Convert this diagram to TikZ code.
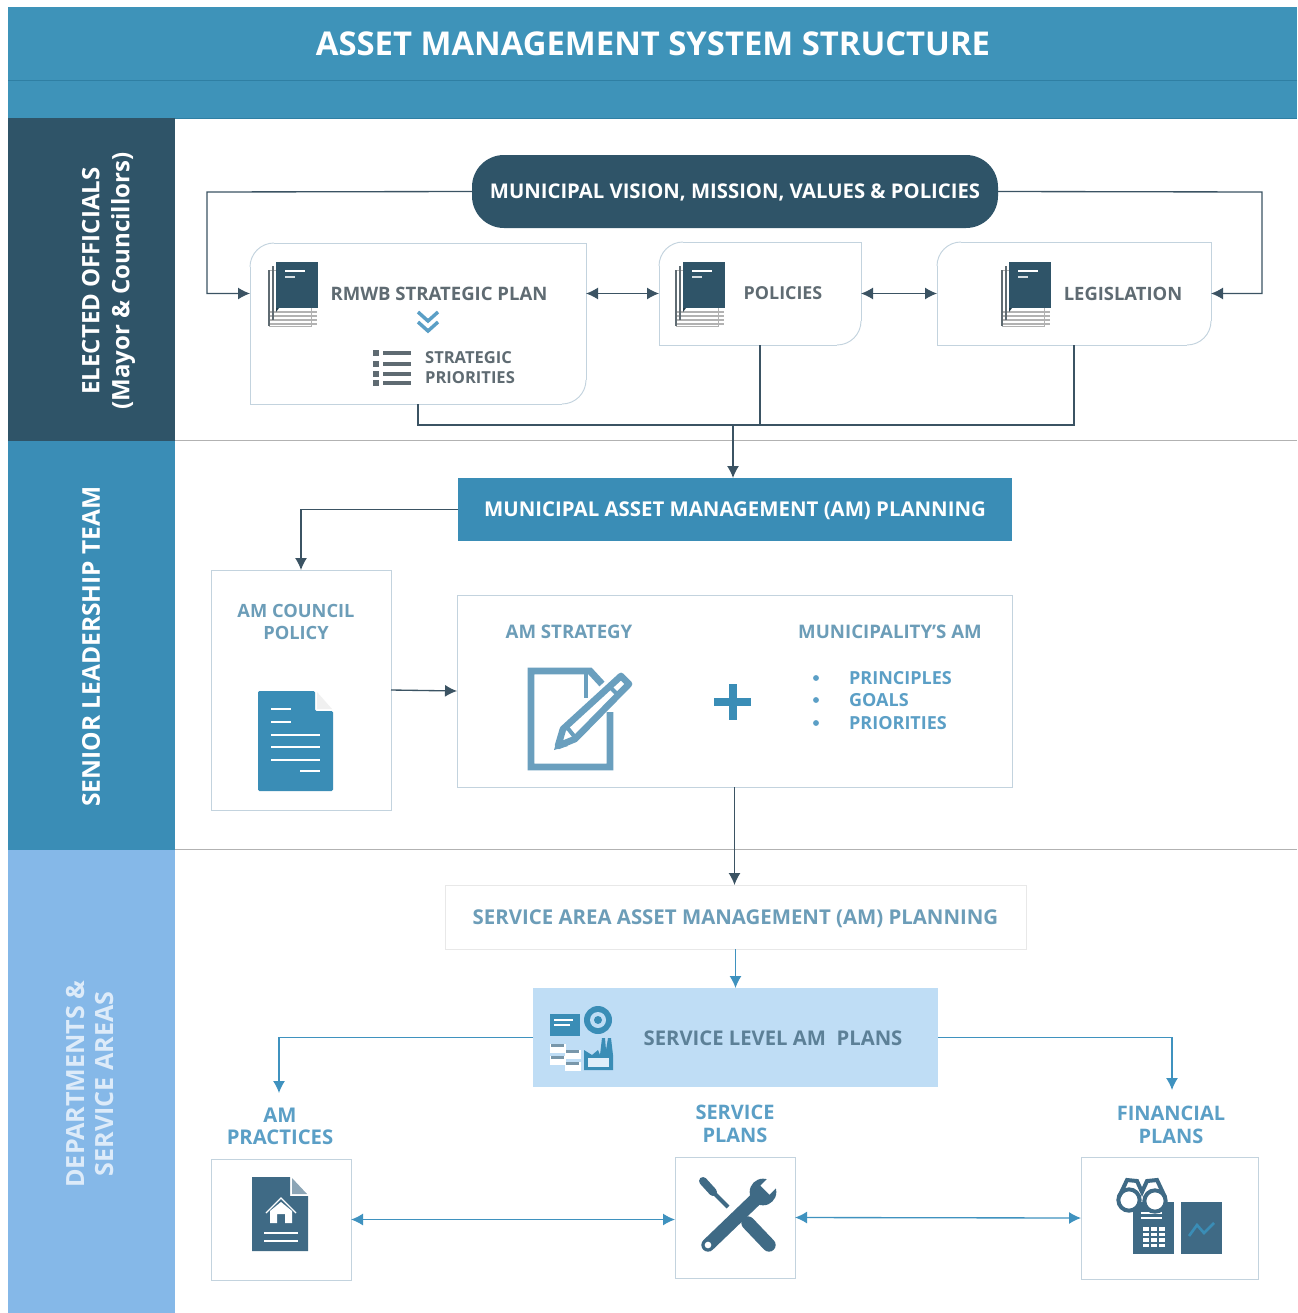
\documentclass[tikz,border=0pt]{standalone}
\usepackage{fontspec}
\setmainfont{Open Sans}
\usetikzlibrary{arrows.meta,calc}
\definecolor{hdr}{HTML}{3E93B9}
\definecolor{hdrline}{HTML}{2F7FA3}
\definecolor{navy}{HTML}{2F5468}
\definecolor{midblue}{HTML}{3A8DB6}
\definecolor{ltblue}{HTML}{85B8E8}
\definecolor{pale}{HTML}{BFDDF5}
\definecolor{slate}{HTML}{3F6A85}
\definecolor{graytx}{HTML}{5F6B72}
\definecolor{steel}{HTML}{6C9DB8}
\definecolor{sky}{HTML}{5B9FC6}
\definecolor{linkd}{HTML}{3B5363}
\definecolor{linkb}{HTML}{3F92BF}
\definecolor{edge}{HTML}{C3D3DE}
\definecolor{iconb}{HTML}{6A9FBE}
\newcommand{\fs}[2]{\fontsize{#1}{#2}\selectfont\bfseries}
\tikzset{
  x=.75pt,y=-.75pt,
  every node/.style={inner sep=0pt,outer sep=0pt,align=center},
  sep/.style={draw=gray!60,line width=.5pt},
  side/.style={rotate=90,text=white,font=\fs{18}{22.5}},
  caps/.style={text height=#1*.714pt,text depth=0pt},
  conn/.style={draw=linkd,line width=1pt},
  bconn/.style={draw=linkb,line width=1pt},
  tip/.style={-{Latex[length=9pt,width=9pt]}},
  tips/.style={{Latex[length=9pt,width=9pt]}-{Latex[length=9pt,width=9pt]}},
  plainbox/.style={draw=edge,line width=.7pt,fill=white,minimum width=#1}
}
% book icon, top-left of the cover at (#1,#2)
\newcommand{\bookicon}[2]{
  \begin{scope}[shift={(#1,#2)}]
    \fill[white,draw=gray!60,line width=.6pt] (-7,8) rectangle (35,64);
    \foreach \yy in {50,54,58,62} \draw[gray!60,line width=1pt] (-7,\yy) -- (41,\yy);
    \draw[graytx,line width=1.2pt] (-7,8) -- (-7,64);
    \draw[graytx,line width=1.2pt] (-3,4) -- (-3,58);
    \fill[navy] (0,0) rectangle (42,46);
    \fill[navy!70!black] (0,46) -- (0,50) -- (3,46) -- cycle;
    \draw[white,line width=1pt] (9,9) -- (29,9);
    \draw[white!80!navy,line width=1pt] (9,15) -- (19,15);
  \end{scope}
}
\begin{document}
\begin{tikzpicture}
\useasboundingbox (0,0) rectangle (1297,1313);
\fill[white] (0,0) rectangle (1297,1313);
% header and side bands
\fill[hdr] (8,7) rectangle (1297,118);
\draw[hdrline,line width=.7pt] (8,80) -- (1297,80);
\draw[hdrline,line width=.7pt] (8,118) -- (1297,118);
\node[text=white,font=\fs{24.6}{30},caps=24.6] (title) at (653,44) {ASSET MANAGEMENT SYSTEM STRUCTURE};
\fill[navy] (8,118) rectangle (175,441);
\fill[midblue] (8,441) rectangle (175,850);
\fill[ltblue] (8,850) rectangle (175,1313);
\draw[sep] (175,440) -- (1297,440);
\draw[sep] (175,849) -- (1297,849);
\node[side] (elected) at (108.5,281) {ELECTED OFFICIALS\\(Mayor \& Councillors)};
\node[side,font=\fs{18.4}{22.5}] (senior) at (91,646.5) {SENIOR LEADERSHIP TEAM};
\node[side,text=white!72!ltblue,font=\fs{18.8}{22}] (dept) at (90,1084) {DEPARTMENTS \&\\SERVICE AREAS};

% top row
\node[fill=navy,rounded corners=24pt,minimum width=394.5pt,minimum height=54.75pt,text=white,font=\fs{15.2}{15},caps=15.2] (vision) at (735,191.5) {MUNICIPAL VISION, MISSION, VALUES \& POLICIES};
\node[minimum width=252pt,minimum height=120.75pt] (strat) at (418,323.5) {};
\node[minimum width=151.5pt,minimum height=77.25pt] (pol) at (760,293.5) {};
\node[minimum width=205.5pt,minimum height=77.25pt] (legis) at (1074,293.5) {};
\foreach \b in {strat,pol,legis}{
  \draw[edge,line width=.7pt] (\b.north east) -- (\b.south east) -- (\b.south west) -- (\b.north west) -- cycle;
  \fill[white] ($(\b.north west)+(-2,-2)$) rectangle ($(\b.north west)+(24,24)$);
  \fill[white] ($(\b.south east)+(2,2)$) rectangle ($(\b.south east)+(-24,-24)$);
  \draw[edge,line width=.7pt] ($(\b.north west)+(0,24)$) arc[start angle=180,end angle=90,radius=18pt];
  \draw[edge,line width=.7pt] ($(\b.south east)+(0,-24)$) arc[start angle=0,end angle=90,x radius=18pt,y radius=-18pt];
}
\bookicon{276}{262}
\bookicon{683}{262}
\bookicon{1009}{262}
\node[text=graytx,font=\fs{13.9}{15},caps=13.9] (rmwb) at (439,294) {RMWB STRATEGIC PLAN};
\node[text=graytx,font=\fs{13.4}{15},caps=13.4] (polt) at (783,293.5) {POLICIES};
\node[text=graytx,font=\fs{13.8}{15},caps=13.8] (legt) at (1123,294) {LEGISLATION};
\node[text=graytx,font=\fs{12.4}{15.6},align=left] (prio) at (470,367.5) {STRATEGIC\\PRIORITIES};
\draw[sky,line width=2.6pt] (418,312) -- (428,321) -- (438,312);
\draw[sky,line width=2.6pt] (418,322) -- (428,331) -- (438,322);
\foreach \yy in {353,364,374,383}{
  \fill[graytx] (373,\yy-3) rectangle (379,\yy+3);
  \draw[graytx,line width=2.4pt] (383,\yy) -- (411,\yy);
}
\coordinate (lbend) at (207,192);
\coordinate (rbend) at (1262,192);
\draw[conn,tip] (vision.west) -- (lbend) |- (strat.west |- pol.west);
\draw[conn,tip] (vision.east) -- (rbend) |- (legis.east);
\draw[conn,tips] (strat.east |- pol.east) -- (pol.west);
\draw[conn,tips] (pol.east) -- (legis.west);
\coordinate (bus) at (733,425);
\draw[conn] (strat.south) |- (bus) -| (legis.south);
\draw[conn] (pol.south) -- (pol.south |- bus);

% senior leadership row
\node[fill=midblue,minimum width=415.5pt,minimum height=47.25pt,text=white,font=\fs{15.3}{15},caps=15.3] (mam) at (735,509.5) {MUNICIPAL ASSET MANAGEMENT (AM) PLANNING};
\draw[conn,tip] (bus) -- (bus |- mam.north);
\node[plainbox=135pt,minimum height=180pt] (council) at (301,690) {};
\node[plainbox=416.25pt,minimum height=144pt] (strategy) at (734.5,691) {};
\draw[conn,tip] (mam.west) -| (council.north);
\draw[conn,tip] (council.east) -- (strategy.west);
\node[text=steel,font=\fs{13.7}{16.5}] (ct) at (296,621.5) {AM COUNCIL\\POLICY};
\node[text=steel,font=\fs{14}{15},caps=14] (st) at (569,631.5) {AM STRATEGY};
\node[text=steel,font=\fs{14}{15},caps=14] (mt) at (890,631.5) {MUNICIPALITY'S AM};
% council document icon
\fill[midblue,rounded corners=1pt] (258,691) -- (315,691) -- (315,711) -- (333,711) -- (333,791) -- (258,791) -- cycle;
\fill[gray!12] (317,692) -- (317,709) -- (332,709) -- cycle;
\foreach \a/\b/\c in {271/291/709,271/291/722,271/320/735,271/320/747,271/320/760,300/320/771}
  \draw[white,line width=1.1pt] (\a,\c) -- (\b,\c);
% strategy icon
\draw[iconb,line width=5.2pt,line cap=butt] (610,712) -- (610,767) -- (531,767) -- (531,671) -- (590,671) -- (602,684);
\draw[iconb,line width=3pt] (586,671) -- (586,698);
\draw[iconb,line width=5pt,fill=white,line join=round] (621,676) -- (629,684) -- (575,739) -- (558,746) -- (563,729) -- cycle;
\draw[iconb,line width=3pt] (610,687) -- (618,695);
\draw[iconb,line width=3pt] (566,726) -- (574,736);
\fill[iconb] (554,750) -- (558,736) -- (568,746) -- cycle;
% plus
\draw[midblue,line width=5.5pt] (733,684) -- (733,720);
\draw[midblue,line width=5.5pt] (714,702) -- (751,702);
\node[text=sky,font=\fs{13.5}{16.9},align=left] (items) at (900.5,700.5) {PRINCIPLES\\GOALS\\PRIORITIES};
\foreach \yy in {678,700,723} \fill[sky] (816,\yy) circle[radius=2.2pt];

% departments row
\node[draw=gray!18,line width=.7pt,minimum width=435.75pt,minimum height=48pt,text=steel,font=\fs{15.3}{15},caps=15.3] (sarea) at (735.5,917) {SERVICE AREA ASSET MANAGEMENT (AM) PLANNING};
\draw[conn,tip] (strategy.south) -- (strategy.south |- sarea.north);
\node[fill=pale,minimum width=303.75pt,minimum height=74.25pt] (slevel) at (735.5,1037.5) {};
\draw[bconn,tip] (sarea.south) -- (sarea.south |- slevel.north);
\node[text=slate!85!white,font=\fs{15.2}{15},caps=15.2] (slt) at (773,1038) {SERVICE LEVEL AM~~PLANS};
% service level icons
\fill[midblue] (550,1014) rectangle (580,1036);
\draw[white,line width=.8pt] (554,1020) -- (573,1020) (554,1025) -- (570,1025);
\fill[midblue] (598,1020) circle[radius=10.5pt];
\fill[pale] (598,1020) circle[radius=6pt];
\fill[midblue] (598,1020) circle[radius=3pt];
\foreach \xx/\yy in {551/1044,566/1050,551/1056,566/1062}{
  \fill[white] (\xx-1,\yy) rectangle (\xx+15,\yy+9);
  \fill[slate!70!white] (\xx,\yy) rectangle (\xx+13,\yy+3);
}
\fill[midblue] (584,1070) -- (584,1050) -- (592,1055) -- (598,1050) -- (600,1055) -- (602,1038) -- (605,1038) -- (606,1050) -- (608,1038) -- (611,1038) -- (613,1055) -- (613,1070) -- cycle;
\fill[pale!50!white] (588,1058) rectangle (609,1067);

\node[text=sky,font=\fs{15.2}{16.9}] (apt) at (280,1126.5) {AM\\PRACTICES};
\node[text=sky,font=\fs{15}{16.9}] (spt) at (735,1124) {SERVICE\\PLANS};
\node[text=sky,font=\fs{15}{16.9}] (fpt) at (1171,1125) {FINANCIAL\\PLANS};
\node[plainbox=105pt,minimum height=90.75pt] (prac) at (281,1219.5) {};
\node[plainbox=90pt,minimum height=90.75pt] (serv) at (735,1217.5) {};
\node[plainbox=132.75pt,minimum height=91.5pt] (fin) at (1169.5,1218) {};
\coordinate (pl) at (279,1093);
\coordinate (fl) at (1172,1090);
\draw[bconn,tip] (slevel.west) -| (pl);
\draw[bconn,tip] (slevel.east) -| (fl);
\draw[bconn,tips] (prac.east) -- (prac.east -| serv.west);
\draw[bconn,tips] (serv.east) -- (fin.west);
% house document
\fill[slate] (252,1177) -- (290,1177) -- (290,1196) -- (308,1196) -- (308,1251) -- (252,1251) -- cycle;
\fill[slate!60!white] (292,1178) -- (292,1194) -- (307,1194) -- cycle;
\draw[white,line width=1pt] (266,1213) -- (281,1198) -- (296,1213);
\fill[white] (270,1223) -- (270,1211) -- (281,1202) -- (292,1211) -- (292,1223) -- (285,1223) -- (285,1214) -- (277,1214) -- (277,1223) -- cycle;
\draw[white,line width=1.2pt] (264,1233) -- (298,1233) (264,1241) -- (298,1241);
% tools
\draw[slate,line width=10pt,line cap=round] (708,1245) -- (758,1197);
\fill[slate] (763,1192) circle[radius=10pt];
\fill[white] (760.5,1185.5) -- (769.5,1194.5) -- (789.5,1174.5) -- (780.5,1165.5) -- cycle;
\fill[white] (708,1245) circle[radius=2.5pt];
\draw[slate,line width=10pt,line cap=round] (748,1223) -- (769,1245);
\draw[slate,line width=3pt] (705,1184) -- (728,1207);
\draw[slate,line width=6pt,line cap=round] (703,1181) -- (713,1192);
% financial icons
\fill[slate] (1133,1202) rectangle (1174,1254);
\fill[slate] (1181,1202) rectangle (1222,1254);
\draw[white,line width=1pt] (1141,1213) -- (1162,1213) (1141,1218) -- (1162,1218);
\foreach \i in {0,1,2} \foreach \j in {0,1,2,3}
  \fill[white] (1143+\i*8,1227+\j*5.5) rectangle (1149+\i*8,1230.5+\j*5.5);
\draw[midblue,line width=2pt] (1189,1236) -- (1197,1225) -- (1204,1233) -- (1214,1223);
\draw[slate,line width=3pt,fill=white] (1129,1200) circle[radius=8pt];
\draw[slate,line width=3pt,fill=white] (1155,1201) circle[radius=8pt];
\draw[slate,line width=3pt] (1119,1197) -- (1127,1180) -- (1137,1181) -- (1142,1192) -- (1147,1181) -- (1157,1180) -- (1165,1197);
\end{tikzpicture}
\end{document}
